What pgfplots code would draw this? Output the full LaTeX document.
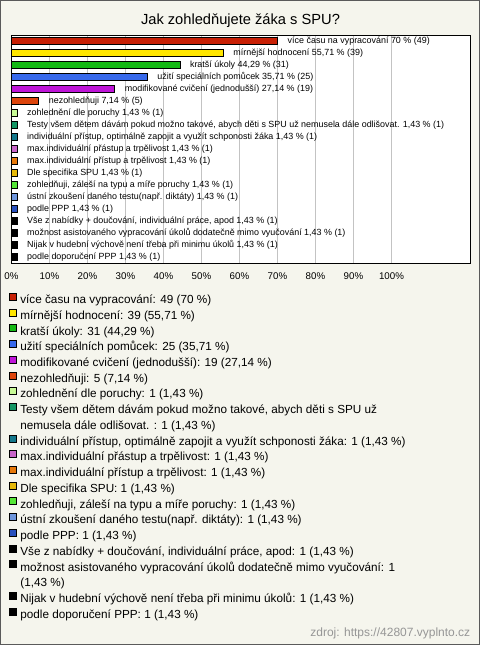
\documentclass[border=0pt]{standalone}
\usepackage{pgfplots}
\pgfplotsset{compat=1.18}
\usepackage{fontspec}
\setmainfont{Liberation Sans}
\definecolor{bg}{RGB}{245,245,237}
\definecolor{frame}{RGB}{90,90,90}
\definecolor{gridc}{RGB}{195,195,195}
\definecolor{c1}{RGB}{200,32,5}
\definecolor{c2}{RGB}{255,230,0}
\definecolor{c3}{RGB}{20,185,20}
\definecolor{c4}{RGB}{55,105,235}
\definecolor{c5}{RGB}{190,20,215}
\definecolor{c6}{RGB}{220,68,12}
\definecolor{c7}{RGB}{200,250,150}
\definecolor{c8}{RGB}{20,150,100}
\definecolor{c9}{RGB}{20,120,140}
\definecolor{c10}{RGB}{200,100,200}
\definecolor{c11}{RGB}{230,120,10}
\definecolor{c12}{RGB}{230,185,10}
\definecolor{c13}{RGB}{85,230,55}
\definecolor{c14}{RGB}{110,150,220}
\definecolor{c15}{RGB}{40,80,190}
\definecolor{c16}{RGB}{0,0,0}
\pgfplotsset{
  bs/.style={xbar, bar width=5.25pt, bar shift=0pt, fill=#1, draw=black, line width=0.4pt,
    legend image code/.code={\draw[fill=#1, draw=black, line width=0.4pt] (0pt,0pt) rectangle (5.25pt,5.25pt);}},
}
\begin{document}
\begin{tikzpicture}
\fill[bg] (0,0) rectangle (360pt,-483.75pt);
\draw[frame, line width=0.75pt] (0.375pt,-0.375pt) rectangle (359.625pt,-483.375pt);
\node[anchor=base, font=\fontsize{11}{13}\selectfont, inner sep=0pt] at (180pt,-18.75pt) {Jak zohledňujete žáka s SPU?};
\begin{axis}[
  at={(8.25pt,-197.25pt)}, anchor=south west,
  scale only axis, width=344.25pt, height=171pt,
  xmin=0, xmax=120.79, ymin=-0.5, ymax=18.5, y dir=reverse,
  xtick={0,10,20,30,40,50,60,70,80,90,100},
  xticklabels={0\%,10\%,20\%,30\%,40\%,50\%,60\%,70\%,80\%,90\%,100\%},
  xticklabel style={font=\fontsize{7.3}{8}\selectfont, yshift=-3.5pt},
  ytick=\empty,
  major tick length=0pt,
  xmajorgrids, major grid style={gridc, line width=0.6pt},
  axis line style={black, line width=0.75pt},
  axis background/.style={fill=white},
  clip=false,
  nodes near coords style={font=\fontsize{6.7}{8}\selectfont, anchor=west, inner sep=0pt, xshift=7.5pt, text=black},
  legend style={at={(0,0)}, anchor=north west, xshift=-1.6pt, yshift=-22pt,
    draw=none, fill=none, inner sep=0pt, outer sep=0pt, row sep=0pt, column sep=2.6pt,
    font=\fontsize{8.8}{11}\selectfont,
    nodes={inner sep=0pt, text height=8.4pt, text depth=3.4pt},
    cells={anchor=west}},
]
\addplot[bs=c1, nodes near coords={více času na vypracování 70 \% (49)}] coordinates {(70,0)};
\addlegendentry{více času na vypracování: 49 (70 \%)}
\addplot[bs=c2, nodes near coords={mírnější hodnocení 55,71 \% (39)}] coordinates {(55.71,1)};
\addlegendentry{mírnější hodnocení: 39 (55,71 \%)}
\addplot[bs=c3, nodes near coords={kratší úkoly 44,29 \% (31)}] coordinates {(44.29,2)};
\addlegendentry{kratší úkoly: 31 (44,29 \%)}
\addplot[bs=c4, nodes near coords={užití speciálních pomůcek 35,71 \% (25)}] coordinates {(35.71,3)};
\addlegendentry{užití speciálních pomůcek: 25 (35,71 \%)}
\addplot[bs=c5, nodes near coords={modifikované cvičení (jednodušší) 27,14 \% (19)}] coordinates {(27.14,4)};
\addlegendentry{modifikované cvičení (jednodušší): 19 (27,14 \%)}
\addplot[bs=c6, nodes near coords={nezohledňuji 7,14 \% (5)}] coordinates {(7.14,5)};
\addlegendentry{nezohledňuji: 5 (7,14 \%)}
\addplot[bs=c7, nodes near coords={zohlednění dle poruchy 1,43 \% (1)}] coordinates {(1.43,6)};
\addlegendentry{zohlednění dle poruchy: 1 (1,43 \%)}
\addplot[bs=c8, nodes near coords={Testy všem dětem dávám pokud možno takové, abych děti s SPU už nemusela dále odlišovat. 1,43 \% (1)}] coordinates {(1.43,7)};
\addlegendentry{Testy všem dětem dávám pokud možno takové, abych děti s SPU už}
\addlegendimage{empty legend}
\addlegendentry{nemusela dále odlišovat. : 1 (1,43 \%)}
\addplot[bs=c9, nodes near coords={individuální přístup, optimálně zapojit a využít schponosti žáka 1,43 \% (1)}] coordinates {(1.43,8)};
\addlegendentry{individuální přístup, optimálně zapojit a využít schponosti žáka: 1 (1,43 \%)}
\addplot[bs=c10, nodes near coords={max.individuální přástup a trpělivost 1,43 \% (1)}] coordinates {(1.43,9)};
\addlegendentry{max.individuální přástup a trpělivost: 1 (1,43 \%)}
\addplot[bs=c11, nodes near coords={max.individuální přístup a trpělivost 1,43 \% (1)}] coordinates {(1.43,10)};
\addlegendentry{max.individuální přístup a trpělivost: 1 (1,43 \%)}
\addplot[bs=c12, nodes near coords={Dle specifika SPU 1,43 \% (1)}] coordinates {(1.43,11)};
\addlegendentry{Dle specifika SPU: 1 (1,43 \%)}
\addplot[bs=c13, nodes near coords={zohledňuji, záleší na typu a míře poruchy 1,43 \% (1)}] coordinates {(1.43,12)};
\addlegendentry{zohledňuji, záleší na typu a míře poruchy: 1 (1,43 \%)}
\addplot[bs=c14, nodes near coords={ústní zkoušení daného testu(např. diktáty) 1,43 \% (1)}] coordinates {(1.43,13)};
\addlegendentry{ústní zkoušení daného testu(např. diktáty): 1 (1,43 \%)}
\addplot[bs=c15, nodes near coords={podle PPP 1,43 \% (1)}] coordinates {(1.43,14)};
\addlegendentry{podle PPP: 1 (1,43 \%)}
\addplot[bs=c16, nodes near coords={Vše z nabídky + doučování, individuální práce, apod 1,43 \% (1)}] coordinates {(1.43,15)};
\addlegendentry{Vše z nabídky + doučování, individuální práce, apod: 1 (1,43 \%)}
\addplot[bs=c16, nodes near coords={možnost asistovaného vypracování úkolů dodatečně mimo vyučování 1,43 \% (1)}] coordinates {(1.43,16)};
\addlegendentry{možnost asistovaného vypracování úkolů dodatečně mimo vyučování: 1}
\addlegendimage{empty legend}
\addlegendentry{(1,43 \%)}
\addplot[bs=c16, nodes near coords={Nijak v hudební výchově není třeba při minimu úkolů 1,43 \% (1)}] coordinates {(1.43,17)};
\addlegendentry{Nijak v hudební výchově není třeba při minimu úkolů: 1 (1,43 \%)}
\addplot[bs=c16, nodes near coords={podle doporučení PPP 1,43 \% (1)}] coordinates {(1.43,18)};
\addlegendentry{podle doporučení PPP: 1 (1,43 \%)}
\end{axis}
\node[anchor=base east, text={rgb,255:red,150;green,150;blue,150}, font=\fontsize{9}{11}\selectfont, inner sep=0pt] at (352.5pt,-477pt) {zdroj: https://42807.vyplnto.cz};
\end{tikzpicture}
\end{document}
